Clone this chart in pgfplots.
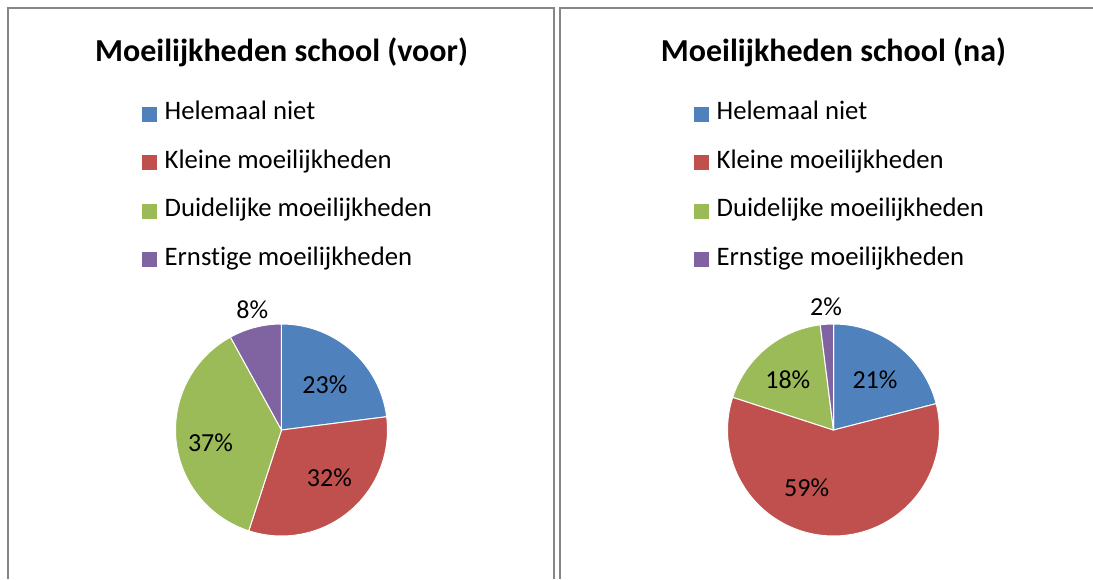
\documentclass[border=0pt]{standalone}
\usepackage{fontspec}
\setmainfont{Carlito}[Ligatures=NoCommon]
\usepackage{pgfplots}
\pgfplotsset{compat=1.18}
\usepgfplotslibrary{polar}

\definecolor{cBlue}{HTML}{4F81BD}
\definecolor{cRed}{HTML}{C0504D}
\definecolor{cGreen}{HTML}{9BBB59}
\definecolor{cPurple}{HTML}{8064A2}
\definecolor{frame}{HTML}{868686}

% one pie slice: colour, cumulative % at start, cumulative % at end (clockwise from 12 o'clock)
\newcommand{\slice}[3]{%
  \addplot[draw=white, line width=1pt, fill=#1, domain={90-3.6*(#3)}:{90-3.6*(#2)}, samples=90]
    {1} -- (axis cs:0,0) -- cycle;
}

\tikzset{lbl/.style={font=\fontsize{26}{31}\selectfont}}

\pgfplotsset{
  pie/.style={
    hide axis, scale only axis, width=212pt, height=212pt,
    ymin=0, ymax=1, clip=false, anchor=origin,
    title style={at={(axis description cs:0.5,2.212)}, anchor=center,
      font=\fontsize{32}{38}\selectfont\bfseries},
    legend style={at={(axis description cs:-0.163,2.045)}, anchor=north west,
      draw=none, fill=none, font=\fontsize{26.7}{32}\selectfont,
      row sep=25.5pt, inner sep=0pt,
      nodes={inner sep=0pt, text height=17pt, text depth=6pt}},
    legend cell align=left,
    legend image code/.code={\path (0pt,0pt) -- (22.5pt,0pt);
      \fill[##1, draw=none] (0pt,-7.5pt) rectangle (15.5pt,7.5pt);},
  },
}

\begin{document}
\begin{tikzpicture}[x=1pt, y=1pt]
\useasboundingbox (0,0) rectangle (1093,579);
\fill[white] (0,0) rectangle (1093,579);
% panel frames
\draw[frame, line width=2pt] (8,0) -- (8,571) -- (554,571) -- (554,0);
\draw[frame, line width=2pt] (560,0) -- (560,571) -- (1093,571);

% voor: 23, 32, 37, 8
\begin{polaraxis}[pie, at={(281.5pt,149pt)}, title={Moeilijkheden school (voor)}]
\slice{cBlue}{0}{23}
\addlegendentry{Helemaal niet}
\slice{cRed}{23}{55}
\addlegendentry{Kleine moeilijkheden}
\slice{cGreen}{55}{92}
\addlegendentry{Duidelijke moeilijkheden}
\slice{cPurple}{92}{100}
\addlegendentry{Ernstige moeilijkheden}
\node[lbl] at (axis cs:46,0.59) {23\%};
\node[lbl] at (axis cs:315,0.64) {32\%};
\node[lbl] at (axis cs:189.9,0.68) {37\%};
\node[lbl] at (axis cs:103.6,1.17) {8\%};
\end{polaraxis}

% na: 21, 59, 18, 2
\begin{polaraxis}[pie, at={(833.5pt,149pt)}, title={Moeilijkheden school (na)}]
\slice{cBlue}{0}{21}
\addlegendentry{Helemaal niet}
\slice{cRed}{21}{80}
\addlegendentry{Kleine moeilijkheden}
\slice{cGreen}{80}{98}
\addlegendentry{Duidelijke moeilijkheden}
\slice{cPurple}{98}{100}
\addlegendentry{Ernstige moeilijkheden}
\node[lbl] at (axis cs:50.3,0.613) {21\%};
\node[lbl] at (axis cs:245,0.60) {59\%};
\node[lbl] at (axis cs:132.3,0.64) {18\%};
\node[lbl] at (axis cs:93.5,1.165) {2\%};
\end{polaraxis}
\end{tikzpicture}
\end{document}
